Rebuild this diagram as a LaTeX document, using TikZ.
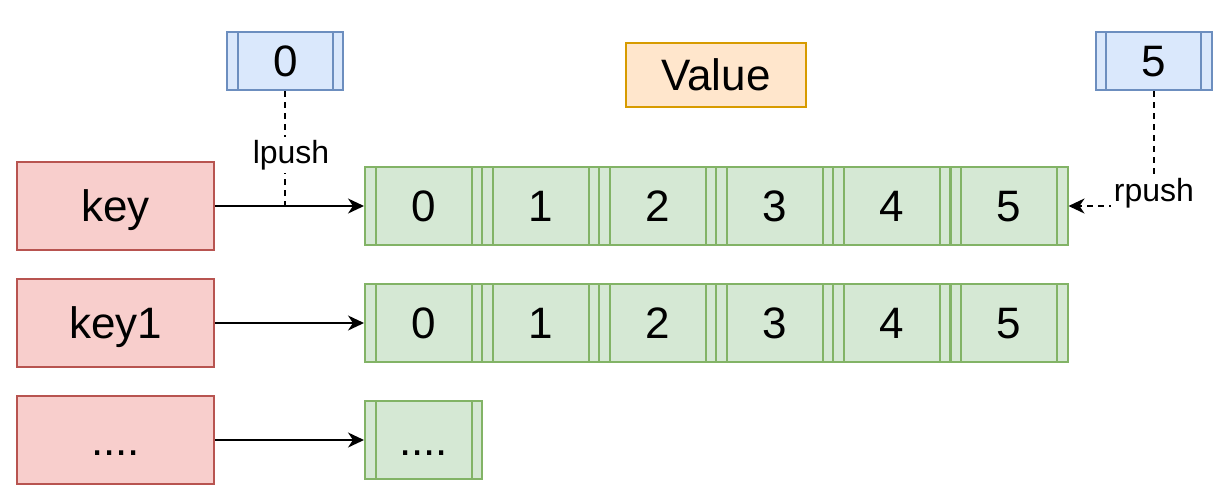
\documentclass[tikz,border=0pt]{standalone}
\usepackage{fontspec}
\setmainfont{Liberation Sans}
\usetikzlibrary{arrows.meta}
\definecolor{redfill}{HTML}{F8CECC}
\definecolor{redline}{HTML}{B85450}
\definecolor{greenfill}{HTML}{D5E8D4}
\definecolor{greenline}{HTML}{82B366}
\definecolor{bluefill}{HTML}{DAE8FC}
\definecolor{blueline}{HTML}{6C8EBF}
\definecolor{orangefill}{HTML}{FFE6CC}
\definecolor{orangeline}{HTML}{D79B00}
\tikzset{
  big/.style={font=\fontsize{22}{26}\selectfont, text height=15.8pt, text depth=0pt},
  lbl/.style={font=\fontsize{16}{19}\selectfont, fill=white, inner sep=1.5pt, text height=11.5pt, text depth=3.2pt},
  box/.style n args={2}{draw=#1, fill=#2, line width=1pt, inner sep=0pt, big},
  proc/.style n args={2}{box={#1}{#2}, path picture={\draw[#1, line width=1pt] ([xshift=5.25pt]path picture bounding box.north west) -- ([xshift=5.25pt]path picture bounding box.south west) ([xshift=-5.25pt]path picture bounding box.north east) -- ([xshift=-5.25pt]path picture bounding box.south east);}},
  keybox/.style={box={redline}{redfill}, minimum width=98.5pt, minimum height=44pt},
  cell/.style={proc={greenline}{greenfill}, minimum width=58.5pt, minimum height=39pt},
  idx/.style={proc={blueline}{bluefill}, minimum width=58pt, minimum height=29pt},
  valbox/.style={box={orangeline}{orangefill}, minimum width=90pt, minimum height=32pt},
  >={Stealth[length=8pt,width=7.5pt,inset=2.5pt]},
  conn/.style={line width=1pt, ->},
  dashline/.style={line width=1pt, dash pattern=on 3pt off 2.5pt},
}
\begin{document}
\begin{tikzpicture}[x=0.5pt,y=-0.5pt]
\path[use as bounding box] (0,0) rectangle (1224,494);
\node[keybox] (k0) at (115.5,206) {key};
\node[keybox] (k1) at (115.5,323) {key1};
\node[keybox] (k2) at (115.5,440) {....};
\foreach \i/\x in {0/423.5,1/540.5,2/657.5,3/774.5,4/891.5,5/1009}{
  \node[cell] (a\i) at (\x,206) {\i};
  \node[cell] (b\i) at (\x,323) {\i};
}
\node[cell] (c0) at (423.5,440) {....};
\node[idx] (l0) at (285.3,61) {0};
\node[idx] (r5) at (1153.8,61) {5};
\node[valbox] (val) at (716,75) {Value};
\draw[conn] (k0) -- (a0);
\draw[conn] (k1) -- (b0);
\draw[conn] (k2) -- (c0);
\coordinate (lj) at (l0.south |- k0.east);
\draw[dashline] (l0.south) -- (lj);
\node[lbl] (lp) at (291,155) {lpush};
\draw[dashline, ->] (r5.south) -- (r5.south |- a5.east) -- (a5.east);
\node[lbl] (rp) at (1154,193) {rpush};
\end{tikzpicture}
\end{document}
